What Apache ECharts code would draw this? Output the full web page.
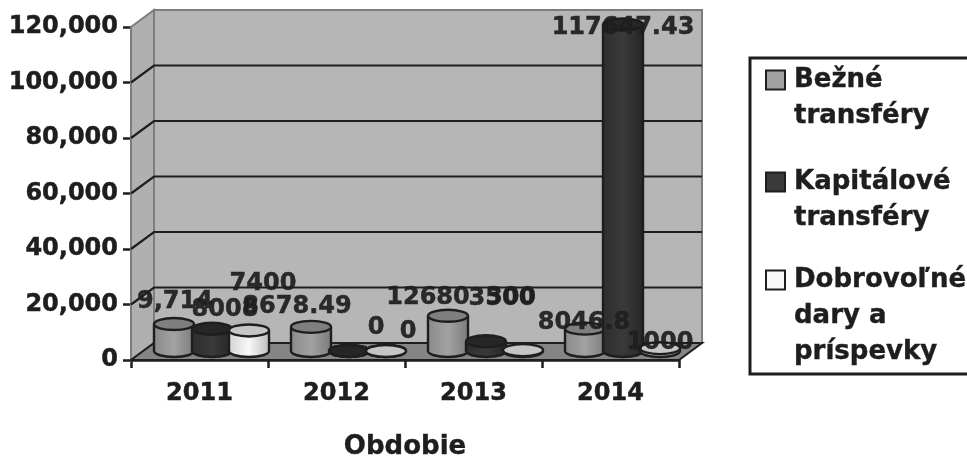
<!DOCTYPE html>
<html><head><meta charset="utf-8">
<style>html,body{margin:0;padding:0;background:#fff}#c{width:967px;height:456px}</style>
<script src="https://cdn.jsdelivr.net/npm/echarts@6/dist/echarts.min.js"></script>
</head><body><div id="c"></div>
<script>
const categories = ['2011','2012','2013','2014'];
const beznetransfery = [9714, 8678.49, 12680, 8046.8];
const kapitalove = [8008, 0, 3500, 117647.43];
const dobrovolne = [7400, 0, 300, 1000];
const labelsBezne = ['9,714','8678.49','12680','8046.8'];
const labelsKapitalove = ['8008','0','3500','117647.43'];
const labelsDobrovolne = ['7400','0','300','1000'];
const yTicks = {min:0,max:120000,interval:20000};
const names = ['Bežné\ntransféry','Kapitálové\ntransféry','Dobrovoľné\ndary a\npríspevky'];

const FONT = '"DejaVu Sans"';
const INK = '#1e1e1e';
const DX = 12, DY = -9, RX = 20, RY = 6;   // depth shift of the bars
const BACK = [23,-17];                     // depth of the walls

const fills = [
  {stops:['#8a8a8a','#a2a2a2','#7c7c7c'],top:'#7f7f7f'},
  {stops:['#2e2e2e','#3a3a3a','#262626'],top:'#262626'},
  {stops:['#d4d4d4','#f8f8f8','#bdbdbd'],top:'#c6c6c6'}
];
// label shift from the top of each cylinder, per series and category
const labelShift = [
  [[1,-22],[-14,-20],[-20,-18],[-1,-6]],
  [[13,-19],[27,-23],[16,-43],[0,3]],
  [[14,-47],[22,-19],[-12,-52],[0,-5]]
];
const offsets = [-25.5,12.5,49.5];

function wallsItem(params, api){
  const o = api.coord([0,0]);
  const band = api.size([1,0])[0];
  const x0 = o[0]-band/2, x1 = x0+band*categories.length, y0 = o[1];
  const yTop = api.coord([0,yTicks.max])[1];
  const [bx,by] = BACK;
  const wall = '#b6b6b6', side='#b0b0b0', floor='#858585', edge='#7d7d7d';
  const kids = [
    {type:'polygon',shape:{points:[[x0+bx,y0+by],[x1+bx,y0+by],[x1+bx,yTop+by],[x0+bx,yTop+by]]},style:{fill:wall,stroke:edge,lineWidth:2}},
    {type:'polygon',shape:{points:[[x0,y0],[x0+bx,y0+by],[x0+bx,yTop+by],[x0,yTop]]},style:{fill:side,stroke:edge,lineWidth:2}},
    {type:'polygon',shape:{points:[[x0,y0],[x1,y0],[x1+bx,y0+by],[x0+bx,y0+by]]},style:{fill:floor,stroke:INK,lineWidth:2}}
  ];
  for(let v=yTicks.interval;v<yTicks.max;v+=yTicks.interval){
    const y = api.coord([0,v])[1];
    kids.push({type:'polyline',shape:{points:[[x0,y],[x0+bx,y+by],[x1+bx,y+by]]},style:{fill:null,stroke:INK,lineWidth:2.2}});
  }
  return {type:'group',children:kids};
}

function cylinder(si, labels){
  return function(params, api){
    const i = api.value(0), v = api.value(1);
    const top = api.coord([i,v]), base = api.coord([i,0]);
    const cx = top[0]+offsets[si], ty = top[1]+DY, by = base[1]+DY;
    const f = fills[si];
    const grad = {type:'linear',x:0,y:0,x2:1,y2:0,colorStops:[{offset:0,color:f.stops[0]},{offset:.5,color:f.stops[1]},{offset:1,color:f.stops[2]}]};
    const st = {stroke:INK,lineWidth:2.4,fill:null};
    const s = labelShift[si][i];
    return {type:'group',children:[
      {type:'ellipse',shape:{cx,cy:by,rx:RX,ry:RY},style:{fill:grad,stroke:INK,lineWidth:2.4}},
      {type:'rect',shape:{x:cx-RX,y:ty,width:2*RX,height:by-ty},style:{fill:grad}},
      {type:'line',shape:{x1:cx-RX,y1:ty,x2:cx-RX,y2:by},style:st},
      {type:'line',shape:{x1:cx+RX,y1:ty,x2:cx+RX,y2:by},style:st},
      {type:'ellipse',shape:{cx,cy:ty,rx:RX,ry:RY},style:{fill:f.top,stroke:INK,lineWidth:2.4}},
      {type:'text',z2:50,style:{text:labels[i],x:cx+s[0],y:ty+s[1],align:'center',verticalAlign:'middle',
        fill:INK,font:'bold 24px '+FONT,stroke:INK,lineWidth:.5,opacity:.93}}
    ]};
  };
}
function seriesOf(si, values, labels){
  return {type:'custom',name:names[si],z:3,clip:false,
    itemStyle:{color:fills[si].stops[1]},
    encode:{x:0,y:1},
    data:values.map((v,i)=>[i,v]),
    renderItem:cylinder(si,labels),silent:true};
}
function legendAt(i,y,blank){
  return {show:true,data:[names[i]],orient:'vertical',left:765,top:y,itemWidth:19,itemHeight:19,itemGap:0,padding:0,
    icon:'rect',selectedMode:false,itemStyle:{borderColor:INK,borderWidth:2},
    formatter:n=>blank+n,
    textStyle:{fontFamily:FONT,fontWeight:'bold',fontSize:26,color:INK,lineHeight:36,padding:[0,0,0,4],
      textBorderColor:INK,textBorderWidth:.4}};
}
const chart = echarts.init(document.getElementById('c'),null,{renderer:'canvas'});
chart.setOption({
  animation:false,backgroundColor:'#fff',
  grid:{left:131,right:288,top:27,bottom:96,containLabel:false,outerBoundsMode:'none'},
  xAxis:{type:'category',data:categories,boundaryGap:true,name:'Obdobie',nameLocation:'middle',nameGap:74,
    nameTextStyle:{fontFamily:FONT,fontWeight:'bold',fontSize:26,color:INK,textBorderColor:INK,textBorderWidth:.4},
    axisLine:{lineStyle:{color:INK,width:2.5}},axisTick:{show:true,alignWithLabel:false,length:8,lineStyle:{color:INK,width:2.5}},
    axisLabel:{fontFamily:FONT,fontWeight:'bold',fontSize:24,color:INK,margin:22,textBorderColor:INK,textBorderWidth:.5},splitLine:{show:false}},
  yAxis:{type:'value',min:yTicks.min,max:yTicks.max,interval:yTicks.interval,
    axisLine:{show:true,lineStyle:{color:INK,width:2.5}},axisTick:{show:true,length:8,lineStyle:{color:INK,width:2.5}},
    axisLabel:{fontFamily:FONT,fontWeight:'bold',fontSize:24,color:INK,margin:13,textBorderColor:INK,textBorderWidth:.5,
      formatter:v=>v.toLocaleString('en-US')},splitLine:{show:false}},
  legend:[legendAt(0,26,'\n'),legendAt(1,128,'\n'),legendAt(2,190,'\n\n')],
  graphic:[{type:'rect',z:-1,shape:{x:750,y:58,width:230,height:316},style:{fill:'#fff',stroke:INK,lineWidth:3}}],
  series:[
    {type:'custom',name:'walls',z:1,silent:true,clip:false,encode:{x:0,y:1},data:[[0,0]],renderItem:wallsItem},
    seriesOf(0,beznetransfery,labelsBezne),
    seriesOf(1,kapitalove,labelsKapitalove),
    seriesOf(2,dobrovolne,labelsDobrovolne)
  ]
});
</script></body></html>
